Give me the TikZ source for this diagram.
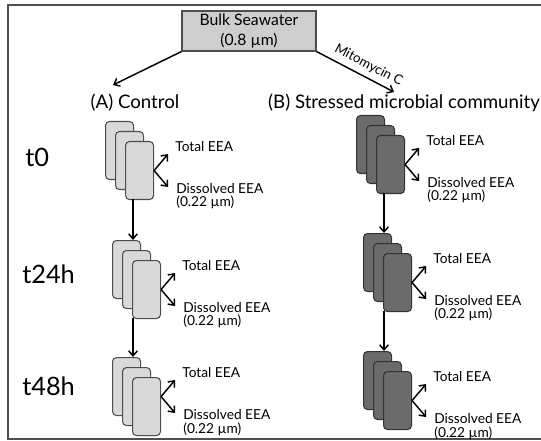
\documentclass[tikz,border=0pt]{standalone}
\usepackage{fontspec}
\setmainfont{Lato}
\usetikzlibrary{arrows.meta}
\definecolor{lightfill}{HTML}{D9D9D9}
\definecolor{darkfill}{HTML}{6B6B6B}
\definecolor{edgegray}{HTML}{4D4D4D}
\definecolor{framegray}{HTML}{505050}
\tikzset{
  arr/.style={line width=1.1pt,-{Straight Barb[length=3.8pt,width=6.5pt]}},
  lightcard/.style={draw=edgegray,fill=lightfill,line width=0.8pt,rounded corners=3pt,minimum width=21pt,minimum height=43.5pt,inner sep=0pt,anchor=north west},
  darkcard/.style={draw=black!80,fill=darkfill,line width=0.8pt,rounded corners=3pt,minimum width=21pt,minimum height=43.5pt,inner sep=0pt,anchor=north west},
  lbl/.style={font=\fontsize{10.3}{12}\selectfont,inner sep=0pt,anchor=west},
  head/.style={font=\fontsize{14}{16}\selectfont,inner sep=0pt},
  tlab/.style={font=\fontsize{19}{22}\selectfont,inner sep=0pt,anchor=west},
}
% name, left, top, style, origin yshift
\newcommand\stk[5]{%
  \node[#4] (#1a) at (#2,#3) {};
  \node[#4] (#1b) at (#2+10,#3+10) {};
  \node[#4] (#1c) at (#2+20,#3+20) {};
  \coordinate (#1o) at ([yshift=#5]#1c.east);
  \coordinate (#1u) at ([shift={(14,-16.5)}]#1o);
  \coordinate (#1d) at ([shift={(14,16.5)}]#1o);
  \draw[arr] (#1o) -- (#1u);
  \draw[arr] (#1o) -- (#1d);
  \node[lbl] (#1tt) at ([shift={(7,-8)}]#1u) {Total EEA};
  \node[lbl] (#1dt) at ([shift={(8,1)}]#1d) {Dissolved EEA};
  \node[lbl,anchor=north west] (#1ft) at ([yshift=-2pt]#1dt.south west) {(0.22 µm)};
}
\begin{document}
\begin{tikzpicture}[x=0.75pt,y=-0.75pt]
\useasboundingbox (0,0) rectangle (541,441);
\draw[framegray,line width=1.3pt] (545,5) -- (8,5) -- (8,439) -- (545,439);
% top box
\node[draw=edgegray,fill=lightfill!95!black,line width=0.8pt,minimum width=100.5pt,minimum height=30pt,inner sep=0pt,align=center,font=\fontsize{11.8}{15}\selectfont] (bulk) at (249,31) {Bulk Seawater\\(0.8 µm)};
\coordinate (ctlend) at (113,85);
\coordinate (strend) at (394,92);
\draw[arr] (bulk.south west) -- (ctlend);
\draw[arr] (bulk.south east) -- node[sloped,above,pos=0.6,inner sep=4pt,font=\fontsize{10}{12}\selectfont] (mito) {Mitomycin C} (strend);
\node[head] (ctl) at (135,103) {(A) Control};
\node[head] (str) at (404,103) {(B) Stressed microbial community};
% time labels
\node[tlab] (t0) at (25,157) {t0};
\node[tlab] (t24) at (22,274) {t24h};
\node[tlab] (t48) at (22,386) {t48h};
% stacks
\stk{ca}{105}{121}{lightcard}{0pt}
\stk{cb}{112}{240}{lightcard}{0pt}
\stk{cc}{112}{357}{lightcard}{7.5pt}
\stk{sa}{356}{115}{darkcard}{0pt}
\stk{sb}{363}{233}{darkcard}{0pt}
\stk{sc}{363}{351}{darkcard}{0pt}
% time arrows
\draw[arr] (133,199) -- (cba.north -| 133,0);
\draw[arr] (133,318) -- (cca.north -| 133,0);
\draw[arr] (384,193) -- (sba.north -| 384,0);
\draw[arr] (384,311) -- (sca.north -| 384,0);
\end{tikzpicture}
\end{document}
